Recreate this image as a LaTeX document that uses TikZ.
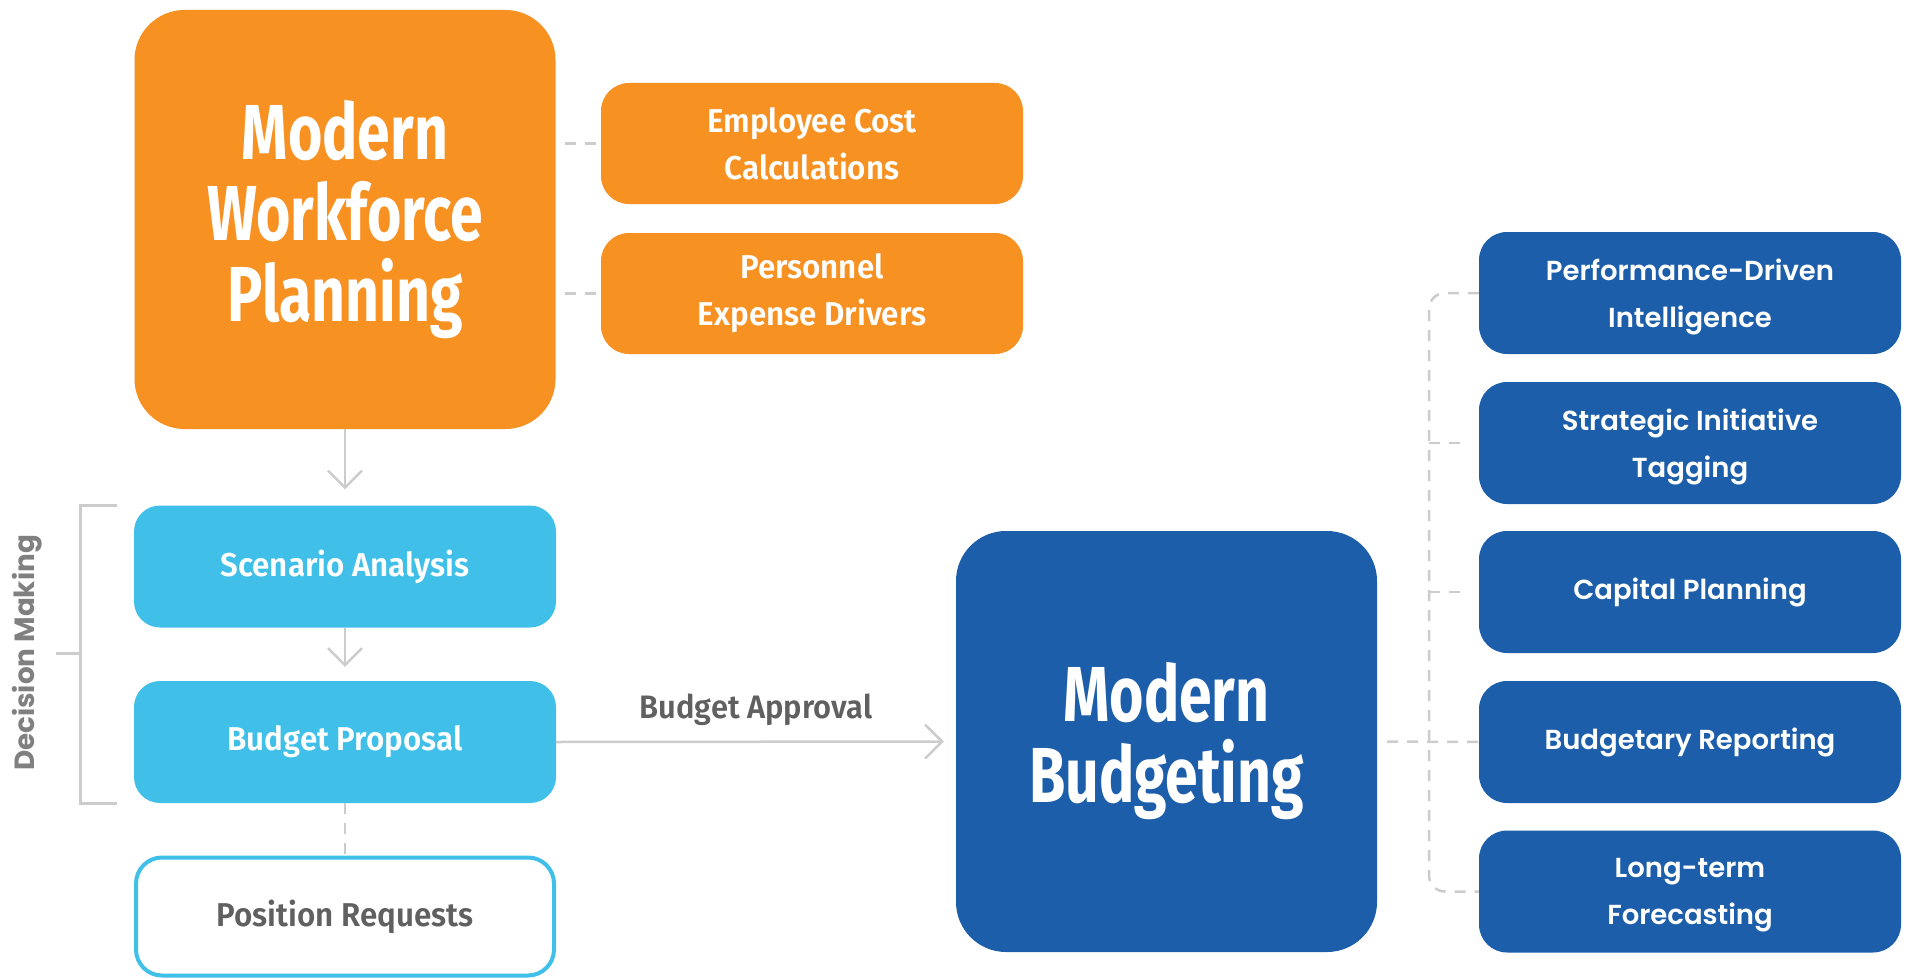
\documentclass[tikz,border=0pt]{standalone}
\usepackage{fontspec}
\setmainfont{Fira Sans}
\newfontfamily\condfont[FakeStretch=0.755]{Fira Sans}
\newfontfamily\semicond[FakeStretch=0.95,BoldFont={Fira Sans SemiBold}]{Fira Sans}
\newfontfamily\widefont{Poppins}
\newfontfamily\widesemi[BoldFont={Poppins SemiBold}]{Poppins}
\usetikzlibrary{arrows.meta}
\definecolor{orng}{RGB}{247,145,34}
\definecolor{lblue}{RGB}{64,191,232}
\definecolor{dblue}{RGB}{28,94,170}
\definecolor{lgray}{RGB}{204,204,204}
\definecolor{tgray}{RGB}{96,96,96}
\definecolor{dgray}{RGB}{128,128,128}
\newcommand{\lowered}[1]{\raisebox{-4pt}[\height][\depth]{\parbox{400pt}{\centering #1}}}
\begin{document}
\begin{tikzpicture}[x=1pt,y=-1pt,
  bigbox/.style={rectangle,rounded corners=50pt,minimum width=421pt,minimum height=421pt,text=white,align=center,font=\condfont\bfseries\fontsize{78}{81}\selectfont},
  obox/.style={rectangle,rounded corners=28pt,fill=orng,minimum width=422pt,minimum height=121pt,text=white,align=center,font=\semicond\bfseries\fontsize{33}{47}\selectfont},
  cbox/.style={rectangle,rounded corners=26pt,fill=lblue,minimum width=422pt,minimum height=122pt,text=white,align=center,font=\semicond\bfseries\fontsize{33}{47}\selectfont},
  bbox/.style={rectangle,rounded corners=28pt,fill=dblue,minimum width=422pt,minimum height=122pt,text=white,align=center,font=\widesemi\bfseries\fontsize{27.5}{47}\selectfont},
  conn/.style={draw=lgray,line width=2.5pt},
  dconn/.style={draw=lgray,line width=2.5pt,dash pattern=on 11pt off 9pt},
  arr/.style={conn,-{Straight Barb[length=17pt,width=34pt]}},
]
\useasboundingbox (0,0) rectangle (1907,979);
% left column
\node[bigbox,fill=orng,minimum height=419pt] (mwp) at (345,219.5) {Modern\\Workforce\\Planning};
\node[obox] (ecc) at (812,143.5) {Employee Cost\\Calculations};
\node[obox] (ped) at (812,293.5) {Personnel\\Expense Drivers};
\node[cbox] (sa) at (345,566.5) {Scenario Analysis};
\node[cbox] (bp) at (345,742) {Budget Proposal};
\node[rectangle,rounded corners=26pt,draw=lblue,line width=4pt,fill=white,minimum width=418pt,minimum height=118pt,text=tgray,font=\semicond\bfseries\fontsize{33}{47}\selectfont] (pr) at (345,916.5) {Position Requests};
% right
\node[bigbox,fill=dblue] (mb) at (1166.5,741.5) {Modern\\Budgeting};
\node[bbox] (pdi) at (1690,293) {\lowered{Performance-Driven\\Intelligence}};
\node[bbox] (sit) at (1690,443) {\lowered{Strategic Initiative\\Tagging}};
\node[bbox] (cp) at (1690,592) {Capital Planning};
\node[bbox] (br) at (1690,742) {Budgetary Reporting};
\node[bbox] (ltf) at (1690,891.5) {\lowered{Long-term\\Forecasting}};
% connectors
\draw[dconn,shorten <=9pt,shorten >=5pt] (mwp.east |- ecc.west) -- (ecc.west);
\draw[dconn,shorten <=9pt,shorten >=5pt] (mwp.east |- ped.west) -- (ped.west);
\draw[arr,shorten >=16pt] (mwp.south) -- (sa.north);
\draw[arr,shorten >=14pt] (sa.south) -- (bp.north);
\draw[dconn] (bp.south) -- (pr.north);
\draw[arr,shorten >=12pt] (bp.east) -- node[above=12pt,text=tgray,font=\semicond\bfseries\fontsize{32.5}{36}\selectfont] (ba) {Budget Approval} (mb.west);
\draw[dconn,shorten <=10pt] (mb.east) -- (br.west);
\coordinate (vx) at (1429,0);
\draw[dconn,rounded corners=16pt] (pdi.west) -- (vx |- pdi.west) -- (vx |- ltf.west) -- (ltf.west);
\draw[dconn,shorten >=12pt] (vx |- sit.west) -- (sit.west);
\draw[dconn,shorten >=12pt] (vx |- cp.west) -- (cp.west);
% decision bracket
\coordinate (bt) at (117,505);
\coordinate (bb) at (117,803);
\draw[conn,line width=3pt] (bt) -- (80,505) -- (80,803) -- (bb);
\coordinate (bm) at (80,653);
\coordinate (bl) at (56,653);
\draw[conn,line width=3pt] (bm) -- (bl);
\node[rotate=90,text=dgray,font=\widefont\bfseries\fontsize{27.8}{34}\selectfont] (dm) at (27,653) {Decision Making};
\end{tikzpicture}
\end{document}
